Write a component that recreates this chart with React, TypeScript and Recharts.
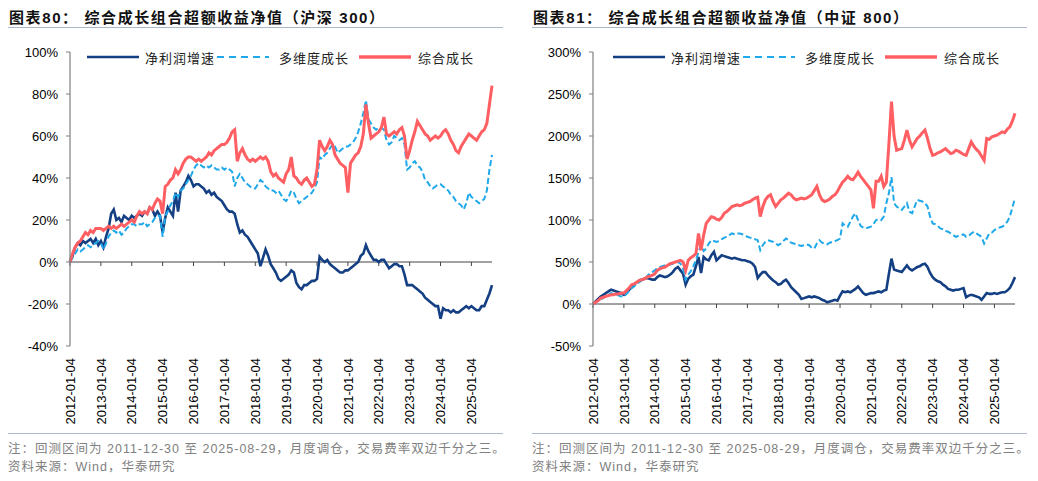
import { LineChart, Line, XAxis, YAxis, ReferenceLine } from "recharts";

// month-end points from 2011-12-30 to 2025-08-29
const START_YEAR = 2012;
const POINTS = 165;

const yearTicks = [2012, 2013, 2014, 2015, 2016, 2017, 2018, 2019, 2020, 2021, 2022, 2023, 2024, 2025];

// 沪深300 panel (%)
const hs300Profit = [
  0,
  3, 7, 9, 8, 10, 9, 10, 11, 9, 11, 8, 10,
  7, 12, 16, 23, 25, 20, 21, 19, 22, 21, 20, 22,
  21, 22, 23, 22, 24, 23, 26, 25, 22, 24, 22, 14,
  21, 26, 24, 22, 33, 24, 34, 36, 38, 41, 39, 36,
  37, 37, 36, 35, 33, 34, 32, 33, 31, 30, 29, 27,
  25, 24, 24, 23, 18, 14, 15, 13, 12, 10, 8, 6,
  4, -2, 2, 6, 3, -1, -3, -5, -8, -9, -8, -7,
  -6, -4, -5, -10, -12, -13, -11, -11, -10, -9, -9, -8,
  2.5, 1, 0, 1, -1, -2, -3, -4, -5, -5, -4, -4,
  -3, -2, -1, 0, 3, 4, 8, 5, 3, 1, 1, 0,
  1, 1, -1, -3, -2, -1, -1, -2, -2, -6, -11, -11,
  -11, -12, -13, -14, -15, -17, -18, -19, -20, -21, -21, -27,
  -22, -23, -23, -24, -23, -24, -24, -23, -22, -21, -22, -21,
  -22, -23, -23, -21, -21, -18, -15, -11,
];
const hs300Multi = [
  0,
  2, 4, 6, 5, 6, 7, 8, 7, 8, 9, 10, 9,
  6, 9, 12, 14, 15, 14, 15, 13, 14, 16, 17, 18,
  18, 17, 18, 18, 19, 17, 18, 19, 21, 22, 22, 12,
  22, 24, 27, 29, 33, 31, 34, 35, 37, 39, 41, 44,
  46, 47, 46, 45, 46, 45, 46, 45, 44, 44, 45, 44,
  45, 44, 43, 36, 40, 42, 40, 38, 37, 36, 35, 35,
  37, 39, 38, 36, 35, 34, 34, 33, 34, 32, 30, 29,
  31, 34, 33, 30, 28, 29, 30, 31, 32, 33, 35, 38,
  50, 49, 51, 52, 54, 56, 55, 52, 53, 54, 55, 55,
  56, 57, 59, 62, 66, 71, 77, 68, 66, 64, 63, 64,
  64, 63, 58, 56, 57, 60, 59, 58, 59, 56, 44, 45,
  47, 48, 46, 45, 43, 39, 38, 36, 35, 36, 37, 37,
  36, 35, 34, 32, 31, 29, 28, 27, 25, 28, 33, 31,
  30, 29, 28, 29, 30, 34, 44, 51,
];
const hs300Combo = [
  0,
  4, 7, 9, 10, 12, 14, 13, 15, 14, 16, 16, 16,
  15, 16, 17, 16, 17, 16, 17, 18, 17, 18, 19, 20,
  19, 22, 24, 23, 24, 23, 26, 25, 28, 30, 29, 23,
  36, 37, 39, 40, 44, 42, 44, 47, 49, 50, 50, 49,
  48, 49, 48, 49, 50, 52, 51, 53, 54, 55, 56, 56,
  57, 59, 62, 63, 48, 52, 54, 51, 49, 48, 49, 48,
  49, 50, 49, 50, 48, 43, 41, 42, 40, 39, 38, 42,
  44, 50, 41, 40, 38, 37, 39, 40, 38, 36, 37, 44,
  58, 55, 53, 55, 58, 56, 51, 49, 47, 46, 45, 33,
  47, 49, 51, 52, 55, 61, 75, 66, 59, 60, 61, 62,
  64, 69, 61, 60, 61, 62, 61, 63, 64, 60, 49, 53,
  58, 62, 67, 65, 63, 61, 60, 58, 59, 60, 59, 60,
  62, 63, 61, 58, 56, 53, 52, 55, 57, 59, 61, 60,
  59, 58, 60, 62, 63, 66, 75, 84,
];

// 中证800 panel (%)
const csi800Profit = [
  0,
  3, 6, 9, 11, 13, 15, 17, 16, 15, 14, 13, 11,
  14, 17, 20, 23, 26, 28, 29, 30, 31, 30, 29, 29,
  32, 34, 33, 32, 33, 35, 38, 42, 44, 40, 36, 23,
  30, 33, 35, 45, 56, 37, 56, 53, 52, 58, 62, 52,
  55, 58, 57, 56, 55, 54, 55, 54, 53, 52, 52, 51,
  50, 48, 44, 31, 35, 38, 38, 34, 31, 28, 26, 23,
  24, 27, 29, 25, 20, 17, 14, 11, 6, 7, 8, 9,
  8, 9, 8, 7, 5, 4, 2, 3, 4, 5, 4, 10,
  15, 14, 15, 14, 16, 18, 21, 17, 13, 11, 12, 13,
  13, 14, 15, 14, 16, 17, 36, 54, 41, 40, 39, 38,
  42, 46, 42, 40, 42, 44, 45, 47, 48, 44, 37, 32,
  29, 27, 26, 23, 21, 18, 17, 16, 17, 17, 18, 19,
  8, 10, 11, 10, 9, 8, 5, 9, 13, 12, 12, 13,
  12, 13, 14, 14, 16, 19, 25, 32,
];
const csi800Multi = [
  0,
  2, 4, 6, 7, 9, 11, 13, 12, 11, 10, 9, 9,
  12, 15, 19, 21, 24, 26, 28, 30, 33, 36, 38, 40,
  43, 44, 45, 46, 46, 47, 48, 49, 50, 48, 42, 29,
  35, 39, 45, 52, 62, 70, 63, 66, 72, 76, 75, 74,
  75, 77, 79, 80, 82, 84, 83, 84, 84, 83, 82, 80,
  79, 78, 77, 76, 64, 70, 74, 76, 75, 74, 72, 70,
  72, 75, 78, 76, 73, 72, 71, 70, 69, 70, 71, 70,
  67, 66, 72, 76, 73, 72, 71, 73, 74, 75, 76, 78,
  96, 93, 92, 98, 104, 108, 100, 93, 91, 90, 91, 92,
  95, 100, 101, 100, 104, 120, 132, 151, 120, 116, 114, 112,
  116, 120, 110, 108, 116, 124, 123, 122, 120, 116, 104, 96,
  95, 93, 90, 89, 87, 86, 84, 82, 80, 81, 82, 83,
  80, 81, 84, 86, 84, 82, 80, 72, 78, 84, 85, 88,
  90, 91, 92, 94, 98, 104, 115, 126,
];
const csi800Combo = [
  0,
  2, 4, 7, 8, 9, 10, 11, 11, 12, 12, 13, 13,
  16, 19, 23, 24, 26, 28, 29, 30, 32, 33, 34, 36,
  40, 42, 43, 44, 46, 48, 49, 50, 51, 52, 50, 40,
  52, 55, 57, 60, 84, 64, 82, 96, 100, 104, 103, 101,
  100, 103, 108, 110, 113, 116, 117, 118, 117, 118, 120, 121,
  122, 124, 126, 127, 104, 116, 124, 128, 130, 122, 116, 120,
  124, 126, 129, 132, 130, 126, 124, 125, 126, 125, 126, 128,
  130, 135, 140, 130, 124, 122, 123, 125, 128, 130, 134, 140,
  145, 148, 152, 149, 148, 152, 157, 152, 148, 144, 140, 136,
  114, 146, 146, 152, 140, 145, 191, 241, 200, 183, 184, 185,
  195, 207, 195, 187, 192, 197, 200, 204, 207, 197, 185, 177,
  178, 180, 181, 183, 185, 182, 179, 180, 183, 182, 180, 178,
  177, 185, 193, 188, 184, 181, 176, 171, 197, 196, 199, 200,
  201, 203, 205, 204, 208, 211, 218, 227,
];

const seriesNames = ["净利润增速", "多维度成长", "综合成长"];
const seriesColors = ["#143f82", "#1fa8ea", "#ff5f62"];

const noteText = "注：回测区间为 2011-12-30 至 2025-08-29，月度调仓，交易费率双边千分之三。";
const sourceText = "资料来源：Wind，华泰研究";

const CJK = "'Liberation Sans', Arial, 'Noto Sans CJK SC', sans-serif";

function buildRows(profit: number[], multi: number[], combo: number[]) {
  return Array.from({ length: POINTS }, (_, i) => ({
    t: START_YEAR + i / 12,
    profit: profit[i],
    multi: multi[i],
    combo: combo[i],
  }));
}

const XTick = (props: any) => {
  const { x, y, payload } = props;
  return (
    <text
      x={x}
      y={y}
      transform={`rotate(-90, ${x}, ${y})`}
      textAnchor="end"
      dy="0.36em"
      fontSize={13}
      fill="#000"
      fontFamily="'Liberation Sans', Arial, sans-serif"
    >
      {`${payload.value}-01-04`}
    </text>
  );
};

function LegendRow({ left }: { left: number }) {
  const text = { fontSize: 13, color: "#222", fontFamily: CJK, letterSpacing: 1 } as const;
  const line = (i: number) => (
    <svg width={52} height={6} style={{ display: "block" }}>
      <line
        x1={0}
        y1={3}
        x2={52}
        y2={3}
        stroke={seriesColors[i]}
        strokeWidth={i === 2 ? 3.5 : i === 1 ? 2.2 : 2.6}
        strokeDasharray={i === 1 ? "7 5" : undefined}
      />
    </svg>
  );
  return (
    <div style={{ position: "absolute", left, top: 48, height: 18, display: "flex", alignItems: "center" }}>
      {line(0)}
      <span style={{ ...text, marginLeft: 6, marginRight: 2 }}>{seriesNames[0]}</span>
      {line(1)}
      <span style={{ ...text, marginLeft: 10, marginRight: 10 }}>{seriesNames[1]}</span>
      {line(2)}
      <span style={{ ...text, marginLeft: 7 }}>{seriesNames[2]}</span>
    </div>
  );
}

interface PanelProps {
  left: number;
  num: string;
  index: string;
  rows: ReturnType<typeof buildRows>;
  yDomain: [number, number];
  yTicks: number[];
  axisWidth: number;
  rightMargin: number;
  tickDepth: number;
  legendLeft: number;
  ruleLeft: number;
}

function Panel(p: PanelProps) {
  return (
    <div style={{ position: "absolute", left: p.left, top: 0, width: 519, height: 481 }}>
      <div
        style={{
          position: "absolute",
          left: p.ruleLeft + 1,
          top: 6,
          fontSize: 15,
          fontWeight: "bold",
          color: "#111",
          fontFamily: CJK,
          whiteSpace: "nowrap",
          letterSpacing: 1.6,
        }}
      >
        {`图表${p.num}：  综合成长组合超额收益净值（${p.index}）`}
      </div>
      <div style={{ position: "absolute", left: p.ruleLeft, top: 27, width: 495, height: 1, background: "#a9b8cc" }} />

      <LineChart
        width={519}
        height={440}
        data={p.rows}
        margin={{ top: 52, right: p.rightMargin, bottom: 14, left: 0 }}
        style={{ position: "absolute", left: 0, top: 0 }}
      >
        <XAxis
          dataKey="t"
          type="number"
          domain={[START_YEAR, START_YEAR + (POINTS - 1) / 12]}
          ticks={yearTicks}
          interval={0}
          axisLine={false}
          tickLine={false}
          tickSize={0}
          tickMargin={12}
          height={80}
          tick={<XTick />}
        />
        <YAxis
          domain={p.yDomain}
          ticks={p.yTicks}
          interval={0}
          width={p.axisWidth}
          tickSize={4}
          tickMargin={8}
          axisLine={{ stroke: "#7f7f7f", strokeWidth: 1.2 }}
          tickLine={{ stroke: "#7f7f7f" }}
          tick={{ fontSize: 13, fill: "#000", fontFamily: "'Liberation Sans', Arial, sans-serif" }}
          tickFormatter={(v: number) => `${v}%`}
        />
        <ReferenceLine y={0} stroke="#444" strokeWidth={1} ifOverflow="extendDomain" />
        {yearTicks.map((yr) => (
          <ReferenceLine
            key={yr}
            segment={[
              { x: yr, y: 0 },
              { x: yr, y: -p.tickDepth },
            ]}
            stroke="#444"
          />
        ))}
        <Line
          dataKey="profit"
          type="linear"
          stroke={seriesColors[0]}
          strokeWidth={2.6}
          dot={false}
          isAnimationActive={false}
        />
        <Line
          dataKey="multi"
          type="linear"
          stroke={seriesColors[1]}
          strokeWidth={2}
          strokeDasharray="6 3"
          dot={false}
          isAnimationActive={false}
        />
        <Line
          dataKey="combo"
          type="linear"
          stroke={seriesColors[2]}
          strokeWidth={3}
          dot={false}
          isAnimationActive={false}
        />
      </LineChart>

      <LegendRow left={p.legendLeft} />

      <div style={{ position: "absolute", left: p.ruleLeft, top: 433, width: 495, height: 1, background: "#a9b8cc" }} />
      <div
        style={{
          position: "absolute",
          left: p.ruleLeft,
          top: 440,
          fontSize: 12.5,
          lineHeight: "18px",
          color: "#808080",
          fontFamily: CJK,
          whiteSpace: "nowrap",
          letterSpacing: 1,
        }}
      >
        <div>{noteText}</div>
        <div>{sourceText}</div>
      </div>
    </div>
  );
}

export default function App() {
  const hs300Rows = buildRows(hs300Profit, hs300Multi, hs300Combo);
  const csi800Rows = buildRows(csi800Profit, csi800Multi, csi800Combo);
  return (
    <div style={{ position: "fixed", left: 0, top: 0, width: 1038, height: 481, background: "#fff", overflow: "hidden" }}>
      <Panel
        left={0}
        num="80"
        index="沪深 300"
        rows={hs300Rows}
        yDomain={[-40, 100]}
        yTicks={[-40, -20, 0, 20, 40, 60, 80, 100]}
        axisWidth={70}
        rightMargin={27}
        tickDepth={1.9}
        legendLeft={87}
        ruleLeft={8}
      />
      <Panel
        left={520}
        num="81"
        index="中证 800"
        rows={csi800Rows}
        yDomain={[-50, 300]}
        yTicks={[-50, 0, 50, 100, 150, 200, 250, 300]}
        axisWidth={73}
        rightMargin={24}
        tickDepth={4.8}
        legendLeft={93}
        ruleLeft={12}
      />
    </div>
  );
}
